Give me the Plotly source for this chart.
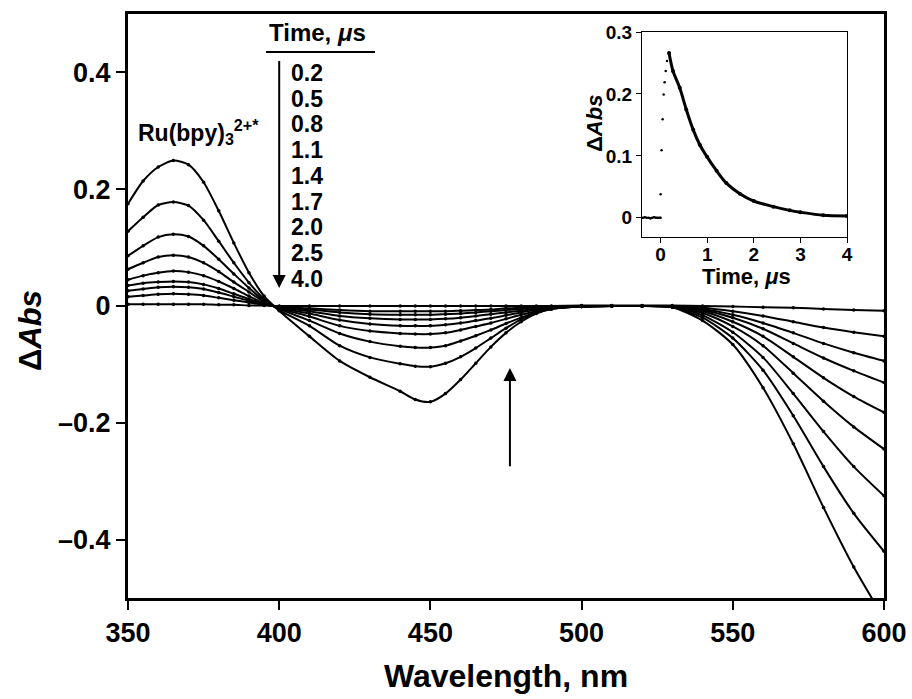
import plotly.graph_objects as go

# ---------------- data ----------------
wavelength = [350, 355, 360, 365, 370, 375, 380, 385, 390, 395, 400, 410, 420, 430, 440, 445,
              450, 455, 460, 465, 470, 475, 480, 485, 490, 500, 510, 520, 530, 540, 550, 560,
              570, 580, 590, 600]

time_labels = ["0.2", "0.5", "0.8", "1.1", "1.4", "1.7", "2.0", "2.5", "4.0"]

abs_t02 = [0.175, 0.214, 0.238, 0.249, 0.242, 0.212, 0.163, 0.108, 0.057, 0.017, -0.008, -0.052,
           -0.094, -0.122, -0.146, -0.160, -0.164, -0.150, -0.126, -0.098, -0.070, -0.046, -0.027,
           -0.013, -0.005, -0.001, 0.0, 0.0, -0.002, -0.025, -0.066, -0.140, -0.236, -0.345,
           -0.447, -0.535]
abs_t05 = [0.128, 0.152, 0.173, 0.178, 0.172, 0.147, 0.111, 0.074, 0.040, 0.012, -0.007, -0.034,
           -0.068, -0.088, -0.099, -0.103, -0.104, -0.098, -0.087, -0.072, -0.055, -0.038, -0.023,
           -0.012, -0.005, -0.001, 0.0, 0.0, -0.002, -0.020, -0.055, -0.110, -0.188, -0.275,
           -0.355, -0.420]
abs_t08 = [0.086, 0.103, 0.118, 0.123, 0.119, 0.103, 0.080, 0.055, 0.031, 0.009, -0.005, -0.025,
           -0.047, -0.061, -0.069, -0.071, -0.071, -0.068, -0.060, -0.051, -0.041, -0.030, -0.020,
           -0.011, -0.005, -0.001, 0.0, 0.0, -0.001, -0.016, -0.045, -0.088, -0.150, -0.215,
           -0.275, -0.325]
abs_t11 = [0.063, 0.074, 0.084, 0.087, 0.084, 0.074, 0.059, 0.041, 0.024, 0.007, -0.004, -0.018,
           -0.034, -0.043, -0.047, -0.048, -0.048, -0.046, -0.041, -0.035, -0.029, -0.022, -0.015,
           -0.009, -0.004, -0.001, 0.0, 0.0, -0.001, -0.012, -0.035, -0.068, -0.115, -0.163,
           -0.207, -0.245]
abs_t14 = [0.045, 0.052, 0.057, 0.060, 0.058, 0.052, 0.042, 0.030, 0.017, 0.005, -0.003, -0.013,
           -0.024, -0.031, -0.034, -0.034, -0.034, -0.032, -0.029, -0.025, -0.021, -0.016, -0.011,
           -0.007, -0.003, -0.001, 0.0, 0.0, -0.001, -0.009, -0.027, -0.052, -0.087, -0.123,
           -0.155, -0.182]
abs_t17 = [0.035, 0.039, 0.041, 0.042, 0.041, 0.037, 0.030, 0.021, 0.012, 0.004, -0.002, -0.009,
           -0.017, -0.021, -0.023, -0.023, -0.023, -0.022, -0.020, -0.017, -0.014, -0.011, -0.008,
           -0.005, -0.002, -0.001, 0.0, 0.0, -0.001, -0.007, -0.020, -0.039, -0.064, -0.089,
           -0.111, -0.131]
abs_t20 = [0.026, 0.029, 0.032, 0.033, 0.032, 0.029, 0.023, 0.016, 0.009, 0.003, -0.001, -0.006,
           -0.011, -0.014, -0.015, -0.015, -0.015, -0.014, -0.013, -0.011, -0.009, -0.007, -0.005,
           -0.003, -0.002, 0.0, 0.0, 0.0, -0.001, -0.005, -0.015, -0.029, -0.046, -0.064,
           -0.080, -0.094]
abs_t25 = [0.016, 0.018, 0.020, 0.021, 0.020, 0.018, 0.014, 0.010, 0.006, 0.002, -0.001, -0.004,
           -0.007, -0.009, -0.009, -0.009, -0.009, -0.009, -0.008, -0.007, -0.006, -0.004, -0.003,
           -0.002, -0.001, 0.0, 0.0, 0.0, 0.0, -0.003, -0.009, -0.017, -0.027, -0.037,
           -0.045, -0.052]
abs_t40 = [0.003, 0.003, 0.003, 0.003, 0.003, 0.003, 0.002, 0.002, 0.001, 0.001, 0.0, 0.0,
           0.0, 0.0, 0.0, 0.0, 0.0, 0.0, 0.0, 0.0, 0.0, 0.0, 0.0, 0.0, 0.0, 0.001, 0.001, 0.001,
           0.001, 0.0, -0.001, -0.002, -0.003, -0.005, -0.007, -0.008]

spectra = [abs_t02, abs_t05, abs_t08, abs_t11, abs_t14, abs_t17, abs_t20, abs_t25, abs_t40]

# inset kinetic trace
inset_t_pre = [-0.38, -0.34, -0.30, -0.26, -0.22, -0.18, -0.14, -0.10, -0.06, -0.02, 0.0]
inset_v_pre = [0.0, 0.001, 0.0, 0.0, -0.001, 0.0, 0.001, 0.0, 0.0, 0.0, 0.0]
inset_t_rise = [0.0, 0.02, 0.043, 0.065, 0.086, 0.108, 0.136]
inset_v_rise = [0.038, 0.109, 0.159, 0.199, 0.219, 0.237, 0.253]
inset_t_decay = [0.18, 0.265, 0.41, 0.55, 0.70, 0.84, 1.0, 1.2, 1.41, 1.70, 2.0, 2.42, 2.77,
                 3.0, 3.49, 4.0]
inset_v_decay = [0.266, 0.237, 0.210, 0.175, 0.142, 0.118, 0.098, 0.076, 0.056, 0.039, 0.027,
                 0.018, 0.012, 0.009, 0.004, 0.003]

x_ticks = [350, 400, 450, 500, 550, 600]
y_ticks = [-0.4, -0.2, 0, 0.2, 0.4]
y_ticktext = ["\u20130.4", "\u20130.2", "0", "0.2", "0.4"]
inset_x_ticks = [0, 1, 2, 3, 4]
inset_y_ticks = [0, 0.1, 0.2, 0.3]
inset_y_ticktext = ["0", "0.1", "0.2", "0.3"]

# ---------------- layout geometry ----------------
W, H = 912, 699
ML, MR, MT, MB = 128, 28, 14, 101
PW, PH = W - ML - MR, H - MT - MB


def px(xp):
    return (xp - ML) / PW


def py(yp):
    return (H - MB - yp) / PH


FONT = "Liberation Sans, Arial, Helvetica, sans-serif"

fig = go.Figure()

for vals in spectra:
    fig.add_trace(go.Scatter(
        x=wavelength, y=vals, mode="lines+markers",
        line=dict(color="black", width=2, shape="spline", smoothing=0.7),
        marker=dict(color="black", size=3.5),
        showlegend=False, hoverinfo="skip", xaxis="x", yaxis="y"))

# inset traces
fig.add_trace(go.Scatter(x=inset_t_pre, y=inset_v_pre, mode="lines+markers",
                         line=dict(color="black", width=1.5),
                         marker=dict(color="black", size=2.5),
                         showlegend=False, xaxis="x2", yaxis="y2"))
fig.add_trace(go.Scatter(x=inset_t_rise, y=inset_v_rise, mode="markers",
                         marker=dict(color="black", size=2.5),
                         showlegend=False, xaxis="x2", yaxis="y2"))
fig.add_trace(go.Scatter(x=inset_t_decay, y=inset_v_decay, mode="lines+markers",
                         line=dict(color="black", width=3, shape="spline", smoothing=0.8),
                         marker=dict(color="black", size=4),
                         showlegend=False, xaxis="x2", yaxis="y2"))

axis_common = dict(showgrid=False, zeroline=False, color="black", automargin=False)

fig.update_layout(
    width=W, height=H,
    margin=dict(l=ML, r=MR, t=MT, b=MB),
    paper_bgcolor="white", plot_bgcolor="white",
    font=dict(family=FONT, color="black"),
    xaxis=dict(
        **axis_common, range=[350, 600], tickmode="array", tickvals=x_ticks,
        ticks="outside", ticklen=9, tickwidth=2, linewidth=3, linecolor="black",
        mirror=True, showline=True,
        tickfont=dict(family=FONT, size=27, weight="bold"),
        title=dict(text="Wavelength, nm", font=dict(family=FONT, size=32, weight="bold"),
                   standoff=18),
    ),
    yaxis=dict(
        **axis_common, range=[-0.5, 0.5], tickmode="array", tickvals=y_ticks,
        ticktext=y_ticktext, ticks="outside", ticklen=9, tickwidth=2, linewidth=3,
        linecolor="black", mirror=True, showline=True,
        tickfont=dict(family=FONT, size=27, weight="bold"),
    ),
    xaxis2=dict(
        **axis_common, domain=[px(642), px(847)], anchor="y2", range=[-0.4, 4],
        tickmode="array", tickvals=inset_x_ticks, ticks="outside", ticklen=5, tickwidth=1,
        ticklabelstandoff=-5,
        showline=True, linewidth=1, linecolor="black", mirror=True,
        tickfont=dict(family=FONT, size=19, weight="bold"),
    ),
    yaxis2=dict(
        **axis_common, domain=[py(237), py(32)], anchor="x2", range=[-0.031, 0.3],
        tickmode="array", tickvals=inset_y_ticks, ticktext=inset_y_ticktext,
        ticks="outside", ticklen=5, tickwidth=1,
        showline=True, linewidth=1, linecolor="black", mirror=True,
        tickfont=dict(family=FONT, size=19, weight="bold"),
    ),
)

annotations = []
# main y-axis title
annotations.append(dict(xref="paper", yref="paper", x=px(30), y=py(331),
                        text="\u0394<i>Abs</i>", textangle=-90, showarrow=False,
                        font=dict(family=FONT, size=31, weight="bold"),
                        xanchor="center", yanchor="middle"))
# inset axis titles
annotations.append(dict(xref="paper", yref="paper", x=px(595), y=py(124),
                        text="\u0394<i>Abs</i>", textangle=-90, showarrow=False,
                        font=dict(family=FONT, size=22, weight="bold"),
                        xanchor="center", yanchor="middle"))
annotations.append(dict(xref="paper", yref="paper", x=px(746), y=py(276),
                        text="Time, <i>\u03bc</i>s", showarrow=False,
                        font=dict(family=FONT, size=22, weight="bold"),
                        xanchor="center", yanchor="middle"))
# species label
annotations.append(dict(xref="paper", yref="paper", x=px(136), y=py(132),
                        text="Ru(bpy)<sub>3</sub><sup>2+*</sup>", showarrow=False,
                        font=dict(family=FONT, size=23, weight="bold"),
                        xanchor="left", yanchor="middle"))
# legend title
annotations.append(dict(xref="paper", yref="paper", x=px(317), y=py(33),
                        text="Time, <i>\u03bc</i>s", showarrow=False,
                        font=dict(family=FONT, size=24, weight="bold"),
                        xanchor="center", yanchor="middle"))
# legend time values
y0, dy = 73, 25.7
for i, lab in enumerate(time_labels):
    annotations.append(dict(xref="paper", yref="paper", x=px(289), y=py(y0 + i * dy),
                            text=lab, showarrow=False,
                            font=dict(family=FONT, size=23, weight="bold"),
                            xanchor="left", yanchor="middle"))
# down arrow (decay of excited-state features)
annotations.append(dict(xref="x", yref="y", x=400, y=0.031, ax=400, ay=0.422,
                        axref="x", ayref="y", text="", showarrow=True,
                        arrowhead=2, arrowsize=1.3, arrowwidth=2, arrowcolor="black"))
# up arrow (bleach recovery)
annotations.append(dict(xref="x", yref="y", x=476.3, y=-0.106, ax=476.3, ay=-0.277,
                        axref="x", ayref="y", text="", showarrow=True,
                        arrowhead=2, arrowsize=1.3, arrowwidth=2, arrowcolor="black"))
fig.update_layout(annotations=annotations)

# underline of legend title
fig.add_shape(type="line", xref="paper", yref="paper", x0=px(266), x1=px(375),
              y0=py(52), y1=py(52), line=dict(color="black", width=2))

fig.write_html("out.html", config={"displayModeBar": False},
               post_script="document.body.style.margin='0';document.body.style.overflow='hidden';")
